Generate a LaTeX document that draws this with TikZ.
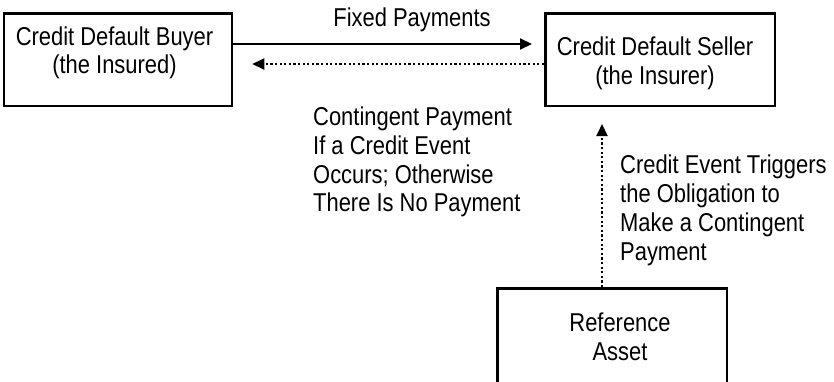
\documentclass[tikz,border=0pt]{standalone}
\usepackage{fontspec}
\setmainfont{Liberation Sans}[FakeStretch=0.85]
\usetikzlibrary{arrows.meta, positioning}

\tikzset{
  party/.style={draw, line width=2.5pt, minimum width=228pt, minimum height=92.5pt, inner sep=0pt},
  caption/.style={inner sep=0pt, align=center},
  note/.style={inner sep=0pt, align=left, anchor=north west},
  pay/.style={line width=2pt, -{Triangle[length=12pt, width=11pt]}},
  contingent/.style={pay, dash pattern=on 2.2pt off 2.4pt},
}

\begin{document}
\begin{tikzpicture}[x=1pt, y=-1pt, font=\fontsize{25.8}{28.7}\selectfont]
  \useasboundingbox (0,0) rectangle (834,381);
  \clip (0,0) rectangle (834,381);

  % boxes
  \node[party] (buyer) at (118, 59.5) {};
  \node[party, minimum width=229.5pt] (seller) at (660, 59.5) {};
  \node[party, minimum width=229.5pt, minimum height=160pt, anchor=north] (asset) at (612, 287.25) {};

  \node[caption, below=14.25pt of buyer.north, xshift=-3.5pt] (buyertxt) {Credit Default Buyer\\(the Insured)};
  \node[caption, below=24.75pt of seller.north, xshift=-5pt] (sellertxt) {Credit Default Seller\\(the Insurer)};
  \node[caption, below=25.75pt of asset.north, xshift=8pt] (assettxt) {Reference\\Asset};

  % payments between the two parties
  \draw[pay] ([yshift=15.5pt]buyer.east) -- ([xshift=-12pt, yshift=15.5pt]seller.west);
  \draw[contingent] ([yshift=-4.5pt]seller.west) -- ([xshift=19pt, yshift=-4.5pt]buyer.east);
  \node[caption, anchor=base] (fixedtxt) at (412, 26.7) {Fixed Payments};
  \node[note] (paynote) at (313, 106.7) {Contingent Payment\\If a Credit Event\\Occurs; Otherwise\\There Is No Payment};

  % trigger from the asset
  \coordinate (gap) at ([yshift=-17pt]seller.south);
  \draw[contingent] ([xshift=-10pt]asset.north) -- ([xshift=-10pt]asset.north |- gap);
  \node[note] (eventnote) at (620, 155) {Credit Event Triggers\\the Obligation to\\Make a Contingent\\Payment};
\end{tikzpicture}
\end{document}
